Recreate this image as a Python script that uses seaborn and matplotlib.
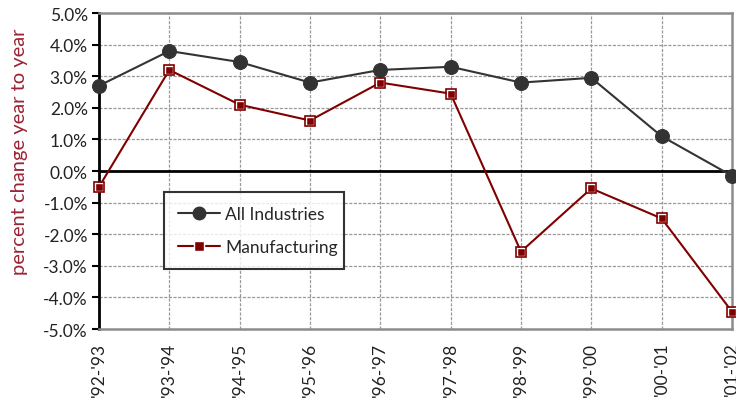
import numpy as np
import pandas as pd
import matplotlib
matplotlib.use("Agg")
import matplotlib.pyplot as plt
import seaborn as sns

# Data
periods = ["'92-'93", "'93-'94", "'94-'95", "'95-'96", "'96-'97",
           "'97-'98", "'98-'99", "'99-'00", "'00-'01", "'01-'02"]
all_industries = [2.7, 3.8, 3.45, 2.8, 3.2, 3.3, 2.8, 2.95, 1.1, -0.15]
manufacturing = [-0.5, 3.2, 2.1, 1.6, 2.8, 2.45, -2.55, -0.55, -1.5, -4.45]
y_ticks = [5, 4, 3, 2, 1, 0, -1, -2, -3, -4, -5]

df = pd.DataFrame({
    "pos": np.arange(len(periods)),
    "All Industries": all_industries,
    "Manufacturing": manufacturing,
})

sns.set_style("white")
plt.rcParams["font.family"] = ["Lato", "DejaVu Sans"]

fig = plt.figure(figsize=(7.36, 4.02), dpi=100)
ax = fig.add_axes([0.1345, 0.179, 0.860, 0.786])

gray = "#8c8c8c"
dark = "#333333"
red = "#800000"

# grid
for yv in y_ticks:
    if yv not in (0, 5, -5):
        ax.axhline(yv, color="#999999", lw=0.9, ls=(0, (2.5, 1.2)), zorder=1)
for xv in range(1, len(periods) - 1):
    ax.axvline(xv, color="#999999", lw=0.9, ls=(0, (2.5, 1.2)), zorder=1)
ax.axhline(0, color="black", lw=2, zorder=2)

sns.lineplot(data=df, x="pos", y="All Industries", ax=ax, color=dark, lw=1.5,
             marker="o", markersize=10, markeredgecolor=dark, zorder=3,
             label="All Industries", legend=False)
sns.lineplot(data=df, x="pos", y="Manufacturing", ax=ax, color=red, lw=1.5,
             marker="s", markersize=6, markerfacecolor=red,
             markeredgecolor="white", markeredgewidth=1.0, zorder=4,
             label="Manufacturing", legend=False)
# outer red frame of the square markers
ax.plot(df["pos"], df["Manufacturing"], ls="none", marker="s", markersize=7.5,
        markerfacecolor="none", markeredgecolor=red, markeredgewidth=1.2,
        zorder=5)
for line in ax.lines:
    line.set_clip_on(False)

ax.set_xlim(0, len(periods) - 1)
ax.set_ylim(-5, 5)
ax.set_yticks(y_ticks)
ax.set_yticklabels([f"{v:.1f}%" for v in y_ticks])
ax.set_xticks(df["pos"])
ax.set_xticklabels(periods, rotation=90, va="top", ha="center")
ax.tick_params(axis="y", direction="out", length=5, width=1.5, color="black",
               labelsize=12.5, labelcolor="#222222", pad=3, left=True)
ax.tick_params(axis="x", length=0, labelsize=12.5, labelcolor="#222222", pad=9)
ax.set_xlabel("")
ax.set_ylabel("percent change year to year", color="#9b2335", fontsize=14.5)
ax.yaxis.set_label_coords(-0.112, 0.565)

for side in ("top", "right", "bottom"):
    ax.spines[side].set_color(gray)
    ax.spines[side].set_linewidth(1.8)
ax.spines["left"].set_color("black")
ax.spines["left"].set_linewidth(2)

h1 = plt.Line2D([], [], color=dark, lw=1.5, marker="o", markersize=9)
h2 = plt.Line2D([], [], color=red, lw=1.5, marker="s", markersize=7,
                markerfacecolor=red, markeredgecolor="white")
leg = ax.legend([h1, h2], ["All Industries", "Manufacturing"],
                loc="lower left", bbox_to_anchor=(0.103, 0.19, 0.284, 0.23),
                mode="expand", frameon=True, fancybox=False, fontsize=12.5,
                borderpad=0.8, labelspacing=1.0, handlelength=2.4,
                handletextpad=0.3, borderaxespad=0)
leg.get_frame().set_edgecolor("black")
leg.get_frame().set_linewidth(1.5)
leg.set_zorder(6)

fig.savefig("out.png", dpi=100)
